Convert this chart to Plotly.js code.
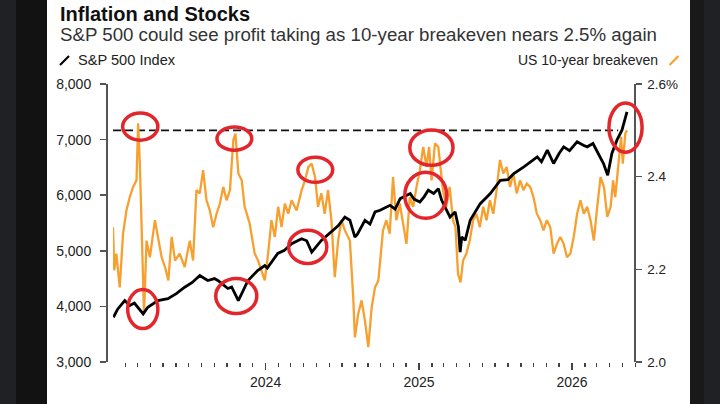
<!DOCTYPE html>
<html><head><meta charset="utf-8">
<script src="https://cdn.plot.ly/plotly-3.0.1.min.js"></script>
<style>
html,body{margin:0;padding:0;width:720px;height:404px;overflow:hidden;background:#202124;}
#lstrip{position:absolute;left:16px;top:0;width:31px;height:404px;background:#121212;}
#rstrip{position:absolute;left:690px;top:0;width:14px;height:404px;background:#191919;}
#white{position:absolute;left:47px;top:0;width:643px;height:404px;background:#fff;}
#chart{position:absolute;left:50px;top:0;width:640px;height:404px;overflow:hidden;}
</style></head>
<body>
<div id="lstrip"></div><div id="rstrip"></div><div id="white"></div>
<div id="chart"></div>
<script>
// S&P 500 Index (left axis)
const spxDates = ['2023-01-03','2023-01-13','2023-01-30','2023-02-11','2023-02-22','2023-03-03','2023-03-09','2023-03-15','2023-03-26','2023-04-19','2023-05-13','2023-06-02','2023-06-22','2023-07-10','2023-07-28','2023-08-16','2023-09-01','2023-09-09','2023-09-20','2023-10-03','2023-10-12','2023-10-28','2023-11-20','2023-12-13','2023-12-30','2024-01-05','2024-01-30','2024-02-15','2024-03-03','2024-03-27','2024-04-08','2024-04-20','2024-05-13','2024-06-06','2024-06-22','2024-07-08','2024-07-20','2024-08-01','2024-08-07','2024-08-25','2024-09-06','2024-09-18','2024-09-30','2024-10-24','2024-11-05','2024-11-17','2024-12-11','2024-12-20','2025-01-03','2025-01-13','2025-01-23','2025-02-05','2025-02-16','2025-02-24','2025-03-16','2025-03-28','2025-04-05','2025-04-09','2025-04-13','2025-04-21','2025-05-03','2025-05-27','2025-06-20','2025-07-14','2025-08-01','2025-08-15','2025-09-08','2025-10-10','2025-10-20','2025-11-03','2025-11-18','2025-12-01','2025-12-12','2025-12-26','2026-01-13','2026-01-28','2026-02-06','2026-02-20','2026-03-02','2026-03-17','2026-03-27','2026-04-06','2026-04-18','2026-04-30','2026-05-12'];
const spxValues = [3804,3950,4105,4015,4060,3985,3930,3865,3985,4105,4140,4230,4345,4430,4556,4466,4500,4466,4400,4322,4350,4105,4466,4646,4736,4690,4953,5010,5128,5218,5180,4976,5187,5337,5450,5607,5550,5247,5300,5548,5480,5698,5728,5818,5750,5938,6030,5930,5878,5970,6089,6030,6119,5908,5607,5700,5427,4976,5250,5187,5548,5848,6030,6269,6280,6390,6510,6690,6600,6810,6570,6750,6870,6800,6960,6900,6870,6930,6780,6570,6360,6750,6990,7170,7500];

// US 10-year breakeven (right axis, %)
const beDates = ['2023-01-02','2023-01-05','2023-01-10','2023-01-18','2023-01-26','2023-02-03','2023-02-11','2023-02-19','2023-02-27','2023-03-03','2023-03-07','2023-03-12','2023-03-17','2023-03-23','2023-03-31','2023-04-12','2023-04-20','2023-04-28','2023-05-06','2023-05-14','2023-05-22','2023-05-30','2023-06-10','2023-06-22','2023-07-04','2023-07-12','2023-07-20','2023-07-28','2023-08-05','2023-08-13','2023-08-21','2023-08-29','2023-09-06','2023-09-14','2023-09-22','2023-09-30','2023-10-08','2023-10-16','2023-10-21','2023-10-28','2023-11-05','2023-11-12','2023-11-24','2023-12-06','2023-12-14','2023-12-22','2023-12-30','2024-01-07','2024-01-15','2024-01-23','2024-01-31','2024-02-08','2024-02-16','2024-02-24','2024-03-03','2024-03-15','2024-03-27','2024-04-04','2024-04-12','2024-04-20','2024-04-28','2024-05-05','2024-05-13','2024-05-21','2024-05-29','2024-06-06','2024-06-14','2024-06-22','2024-06-30','2024-07-08','2024-07-20','2024-07-28','2024-08-01','2024-08-09','2024-08-17','2024-08-25','2024-09-02','2024-09-10','2024-09-18','2024-09-26','2024-10-07','2024-10-15','2024-10-23','2024-10-31','2024-11-08','2024-11-16','2024-11-24','2024-12-02','2024-12-10','2024-12-18','2024-12-26','2025-01-03','2025-01-11','2025-01-19','2025-01-25','2025-01-31','2025-02-08','2025-02-16','2025-02-21','2025-02-27','2025-03-07','2025-03-15','2025-03-23','2025-03-29','2025-04-04','2025-04-10','2025-04-16','2025-04-24','2025-05-02','2025-05-10','2025-05-18','2025-05-26','2025-06-03','2025-06-11','2025-06-19','2025-06-27','2025-07-05','2025-07-13','2025-07-21','2025-07-29','2025-08-06','2025-08-14','2025-08-22','2025-08-30','2025-09-07','2025-09-15','2025-09-23','2025-10-01','2025-10-09','2025-10-17','2025-10-25','2025-11-02','2025-11-10','2025-11-18','2025-11-26','2025-12-04','2025-12-12','2025-12-20','2025-12-28','2026-01-05','2026-01-13','2026-01-21','2026-01-29','2026-02-06','2026-02-14','2026-02-22','2026-03-02','2026-03-10','2026-03-18','2026-03-26','2026-04-03','2026-04-09','2026-04-14','2026-04-22','2026-04-28','2026-05-02','2026-05-08','2026-05-12'];
const beValues = [2.291,2.198,2.234,2.161,2.277,2.327,2.356,2.378,2.392,2.515,2.428,2.248,2.104,2.262,2.226,2.306,2.270,2.226,2.205,2.176,2.270,2.219,2.234,2.205,2.262,2.219,2.371,2.364,2.414,2.349,2.327,2.291,2.320,2.342,2.378,2.349,2.371,2.479,2.493,2.407,2.392,2.335,2.299,2.234,2.219,2.198,2.176,2.234,2.306,2.270,2.335,2.291,2.342,2.320,2.349,2.327,2.371,2.392,2.421,2.428,2.399,2.335,2.364,2.320,2.371,2.306,2.183,2.262,2.306,2.284,2.262,2.140,2.053,2.104,2.133,2.089,2.032,2.118,2.161,2.176,2.284,2.306,2.277,2.399,2.306,2.342,2.299,2.255,2.356,2.335,2.378,2.414,2.464,2.421,2.464,2.392,2.472,2.464,2.421,2.371,2.335,2.378,2.306,2.291,2.190,2.172,2.219,2.234,2.262,2.306,2.320,2.291,2.335,2.306,2.349,2.320,2.371,2.436,2.407,2.421,2.378,2.407,2.364,2.392,2.371,2.385,2.378,2.356,2.320,2.306,2.284,2.306,2.291,2.234,2.255,2.270,2.255,2.226,2.234,2.270,2.320,2.349,2.320,2.335,2.306,2.262,2.335,2.399,2.378,2.313,2.335,2.392,2.356,2.436,2.486,2.428,2.493,2.500];

const spxTicks = [3000,4000,5000,6000,7000,8000];
const beTicks = [2.0,2.2,2.4,2.6];
const beTickText = ['2.0','2.2','2.4','2.6%'];
const thresholdBE = 2.5;

// highlighted episodes: [start, end, low, high] on the S&P scale
const circles = [
  ['2023-01-25','2023-04-19',6990,7477],
  ['2023-09-07','2023-11-29',6810,7225],
  ['2024-03-18','2024-06-09',6233,6684],
  ['2023-02-06','2023-04-19',3601,4304],
  ['2023-09-04','2023-12-11',3871,4502],
  ['2024-02-25','2024-05-26',4773,5368],
  ['2024-12-10','2025-03-23',6540,7171],
  ['2024-11-28','2025-03-08',5584,6413],
  ['2026-03-30','2026-06-17',6774,7657]
];

const W = 539, H = 278;
const px = a => (a - 106) / W;       // absolute page x -> paper
const py = a => (362 - a) / H;       // absolute page y -> paper

const font = 'Liberation Sans, Arial, Helvetica, sans-serif';

const traces = [
  {x: beDates, y: beValues, type: 'scatter', mode: 'lines', yaxis: 'y',
   line: {color: '#f7a030', width: 2.3}, hoverinfo: 'skip'},
  {x: spxDates, y: spxValues, type: 'scatter', mode: 'lines', yaxis: 'y2',
   line: {color: '#000000', width: 2.8}, hoverinfo: 'skip'}
];

const shapes = [
  {type: 'line', xref: 'x', yref: 'y', x0: '2023-01-02', x1: '2026-04-21', y0: thresholdBE, y1: thresholdBE,
   line: {color: '#111', width: 1.6, dash: '8px,4px'}, layer: 'below'},
  {type: 'line', xref: 'paper', yref: 'paper', x0: px(60), y0: py(65), x1: px(69), y1: py(56),
   line: {color: '#000', width: 2.2}},
  {type: 'line', xref: 'paper', yref: 'paper', x0: px(669.5), y0: py(65), x1: px(678.5), y1: py(56),
   line: {color: '#f7a030', width: 2.2}}
];
circles.forEach(c => shapes.push({type: 'circle', xref: 'x', yref: 'y2', x0: c[0], x1: c[1], y0: c[2], y1: c[3],
  line: {color: '#e3262b', width: 3.5}, layer: 'above'}));

const layout = {
  width: 640, height: 404,
  margin: {l: 56, r: 45, t: 84, b: 42, pad: 0},
  paper_bgcolor: '#ffffff', plot_bgcolor: 'rgba(0,0,0,0)',
  showlegend: false,
  font: {family: font, color: '#222', size: 13.5},
  xaxis: {
    type: 'date', domain: [0.013, 1], range: ['2023-01-02', '2026-06-24'],
    showgrid: false, zeroline: false, showline: false,
    ticks: 'outside', ticklen: 7, tickwidth: 1.3, tickcolor: '#444',
    dtick: 'M12', tick0: '2024-01-01', tickformat: '%Y',
    tickfont: {size: 14, color: '#222'},
    minor: {dtick: 'M1', ticks: 'outside', ticklen: 4, tickwidth: 1.3, tickcolor: '#444', showgrid: false}
  },
  yaxis: {
    range: [2.0, 2.6], side: 'right', anchor: 'free', position: px(634),
    showgrid: false, zeroline: false, showline: true, linecolor: '#555', linewidth: 1.5,
    ticks: 'outside', ticklen: 6, tickwidth: 1.5, tickcolor: '#555', ticklabelstandoff: 3,
    tickmode: 'array', tickvals: beTicks, ticktext: beTickText,
    tickfont: {size: 13.5, color: '#222'}
  },
  yaxis2: {
    range: [3000, 8000], side: 'left', overlaying: 'y', anchor: 'free', position: 0,
    showgrid: false, zeroline: false, showline: true, linecolor: '#555', linewidth: 1.5,
    ticks: 'outside', ticklen: 6, tickwidth: 1.5, tickcolor: '#555', ticklabelstandoff: 6,
    tickmode: 'array', tickvals: spxTicks, tickformat: ',d',
    tickfont: {size: 14, color: '#222'}
  },
  shapes: shapes,
  annotations: [
    {text: '<b>Inflation and Stocks</b>', xref: 'paper', yref: 'paper', x: px(58), y: py(13.5),
     xanchor: 'left', yanchor: 'middle', showarrow: false, font: {size: 20, color: '#111', family: font}},
    {text: 'S&P 500 could see profit taking as 10-year breakeven nears 2.5% again', xref: 'paper', yref: 'paper',
     x: px(58), y: py(35), xanchor: 'left', yanchor: 'middle', showarrow: false,
     font: {size: 18.7, color: '#333', family: font}},
    {text: 'S&P 500 Index', xref: 'paper', yref: 'paper', x: px(76), y: py(60),
     xanchor: 'left', yanchor: 'middle', showarrow: false, font: {size: 14.6, color: '#222', family: font}},
    {text: 'US 10-year breakeven', xref: 'paper', yref: 'paper', x: px(660), y: py(60),
     xanchor: 'right', yanchor: 'middle', showarrow: false, font: {size: 14, color: '#222', family: font}}
  ]
};

Plotly.newPlot('chart', traces, layout, {staticPlot: true, displayModeBar: false});
</script>
</body></html>
